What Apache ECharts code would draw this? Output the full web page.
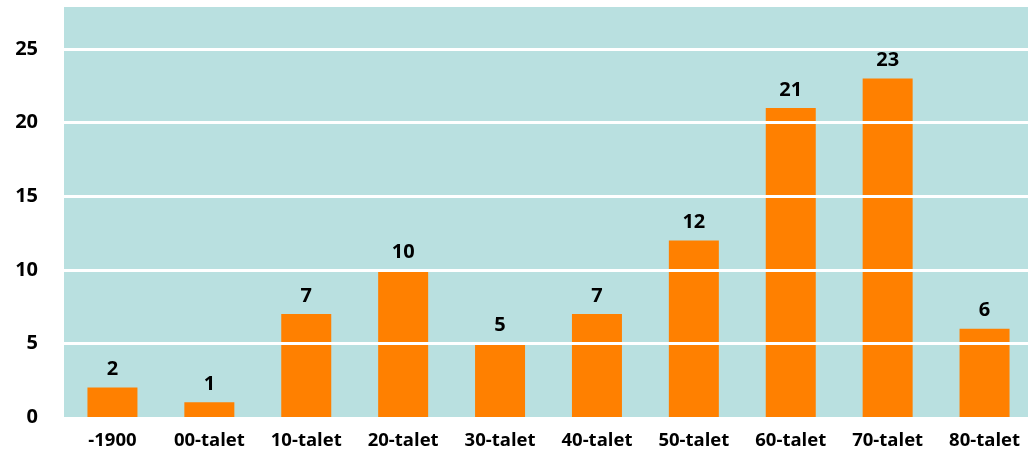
<!doctype html>
<html lang="sv">
<head>
    <meta charset="UTF-8">
    <script src="https://cdn.jsdelivr.net/npm/echarts@6/dist/echarts.min.js"></script>
    <title>Decennier</title>
    <style>
        html, body { margin: 0; padding: 0; background: #fff; }
    </style>
</head>
<body>
<div id="main" style="width: 1028px; height: 461px"></div>
<script type="text/javascript">
    // data
    var categories = ['-1900', '00-talet', '10-talet', '20-talet', '30-talet', '40-talet', '50-talet', '60-talet', '70-talet', '80-talet'];
    var counts = [2, 1, 7, 10, 5, 7, 12, 21, 23, 6];
    var yTicks = [0, 5, 10, 15, 20, 25];

    var font = '"Open Sans", "DejaVu Sans", sans-serif';
    var mychart = echarts.init(document.getElementById('main'));
    var option = {
        animation: false,
        grid: {
            left: 64, width: 969, top: 5, bottom: 44,
            outerBoundsMode: 'none',
            show: true, backgroundColor: '#b9e0e0', borderWidth: 0
        },
        xAxis: {
            type: 'category',
            data: categories,
            axisLine: { show: false },
            axisTick: { show: false },
            axisLabel: {
                color: '#000', fontSize: 18.5, fontWeight: 'bold', fontFamily: font, margin: 14
            }
        },
        yAxis: {
            type: 'value',
            min: 0, max: 28, interval: 5,
            z: 5,
            axisLine: { show: false },
            axisTick: { show: false },
            axisLabel: {
                color: '#000', fontSize: 20, fontWeight: 'bold', fontFamily: font, margin: 26,
                formatter: function (v) { return yTicks.indexOf(v) >= 0 ? v : ''; }
            },
            splitLine: { showMinLine: false, lineStyle: { color: '#fff', width: 3 } }
        },
        series: [{
            type: 'bar',
            data: counts,
            barWidth: 50,
            itemStyle: { color: '#ff8000' },
            label: {
                show: true, position: 'top', distance: 8,
                color: '#000', fontSize: 20, fontWeight: 'bold', fontFamily: font
            }
        }]
    };
    mychart.setOption(option);
</script>
</body>
</html>
